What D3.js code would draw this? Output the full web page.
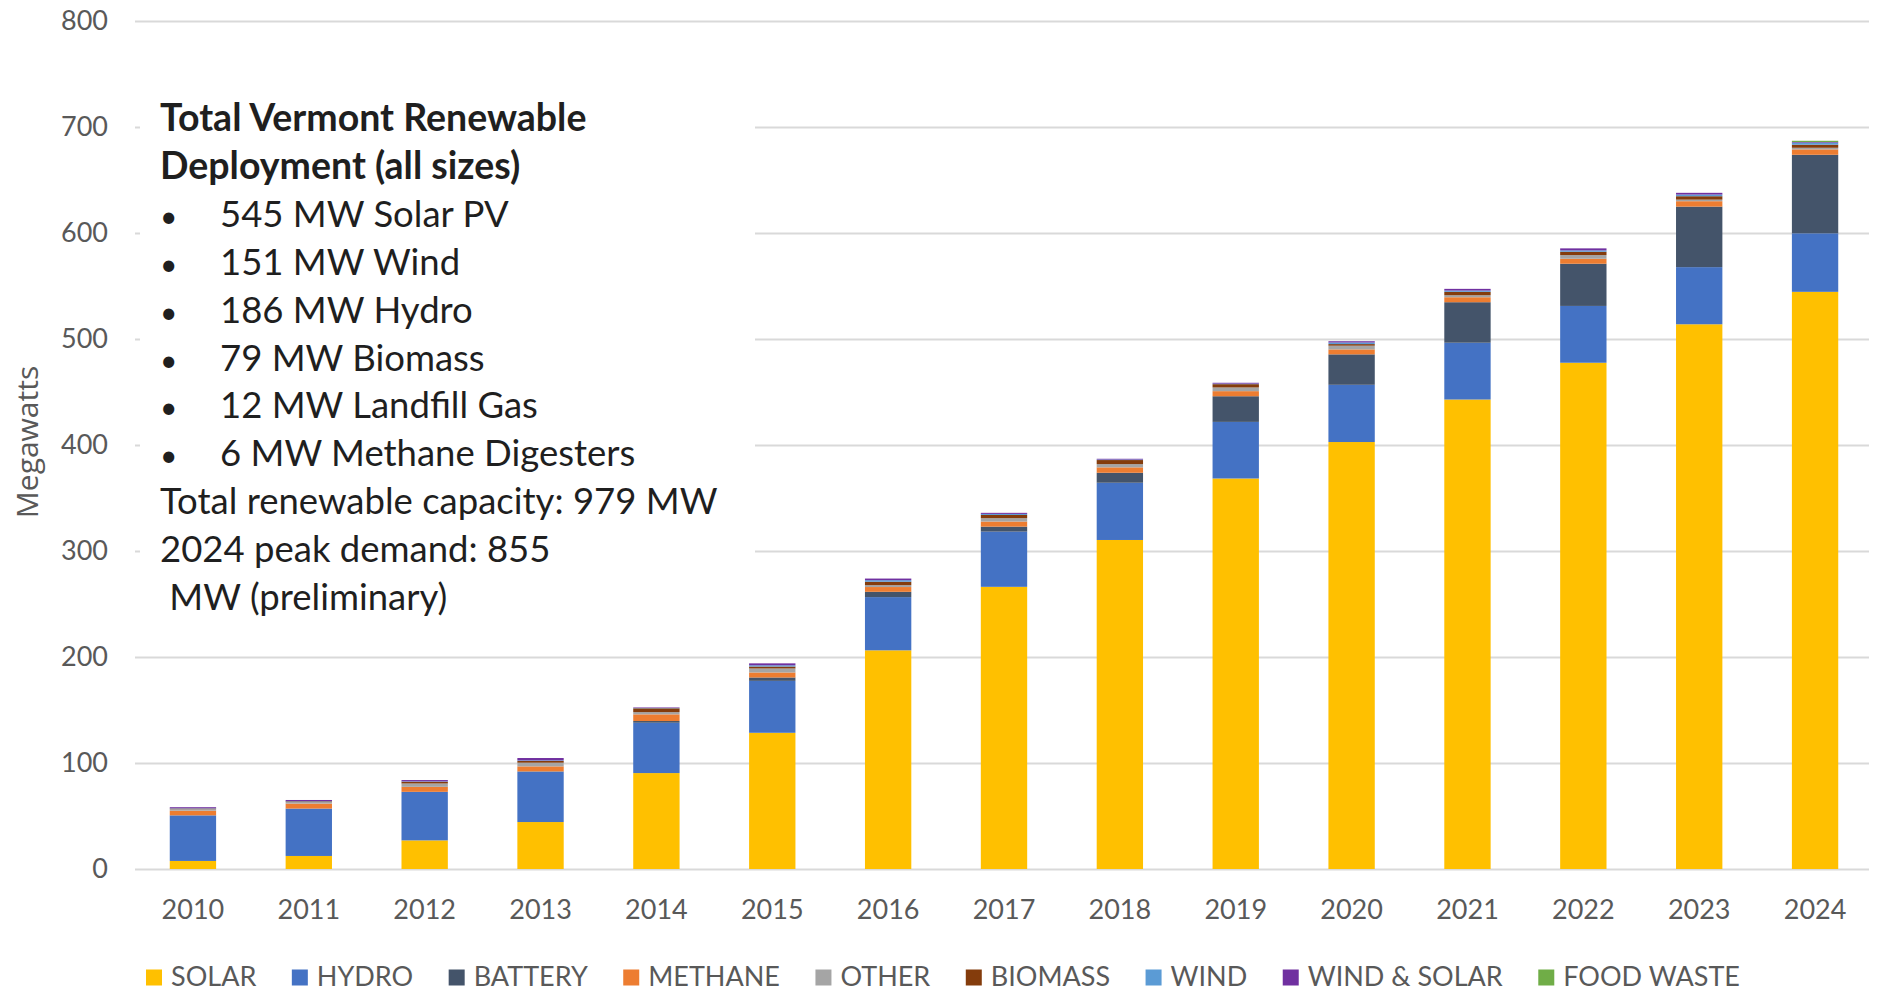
<!DOCTYPE html>
<html>
<head>
<meta charset="utf-8">
<script src="https://cdn.jsdelivr.net/npm/d3@7"></script>
<style>
body { margin: 0; background: #fff; }
svg text { font-family: Lato, "Open Sans", sans-serif; }
</style>
</head>
<body>
<script>
// values (MW, cumulative installed)
var years      = ["2010", "2011", "2012", "2013", "2014", "2015", "2016", "2017", "2018", "2019", "2020", "2021", "2022", "2023", "2024"];
var solar      = [7.6, 12.3, 27.0, 44.3, 90.5, 128.5, 206.3, 266.2, 310.4, 368.4, 402.8, 442.9, 477.6, 513.9, 544.5];
var hydro      = [43.0, 44.7, 45.8, 47.5, 47.5, 49.0, 50.2, 52.1, 54.0, 53.4, 54.0, 53.6, 53.6, 53.9, 55.2];
var battery    = [0, 0, 0, 0.3, 1.6, 3.2, 5.0, 4.7, 9.4, 24.2, 28.7, 38.2, 39.8, 57.1, 74.1];
var methane    = [4.4, 4.7, 4.7, 4.7, 6.3, 4.7, 4.5, 4.8, 5.1, 4.8, 4.7, 4.7, 4.7, 5.1, 5.1];
var other      = [1.5, 1.5, 3.2, 3.5, 2.1, 3.8, 1.8, 3.2, 3.1, 3.5, 3.5, 1.9, 3.5, 1.5, 1.5];
var biomass    = [0.5, 0.6, 1.6, 1.6, 3.6, 1.8, 3.2, 3.0, 3.8, 3.1, 1.5, 3.2, 3.1, 3.2, 2.9];
var wind       = [0.3, 0.3, 0.4, 0.6, 0.3, 1.2, 1.5, 1.0, 0.5, 0.5, 1.5, 1.2, 1.3, 1.6, 1.9];
var windSolar  = [1.0, 1.0, 1.2, 2.2, 0.5, 1.8, 1.5, 1.0, 0.7, 0.8, 1.2, 1.6, 1.9, 1.6, 0.6];
var foodWaste  = [0, 0, 0, 0, 0, 0, 0, 0, 0, 0, 0, 0, 0, 0, 1.2];

var seriesNames = ["SOLAR", "HYDRO", "BATTERY", "METHANE", "OTHER", "BIOMASS", "WIND", "WIND & SOLAR", "FOOD WASTE"];
var seriesData  = [solar, hydro, battery, methane, other, biomass, wind, windSolar, foodWaste];
var seriesColors = ["#FFC000", "#4472C4", "#44546A", "#ED7D31", "#A5A5A5", "#843C0C", "#5B9BD5", "#7030A0", "#70AD47"];

var yTicks = [0, 100, 200, 300, 400, 500, 600, 700, 800];

var noteTitle = ["Total Vermont Renewable", "Deployment (all sizes)"];
var noteBullets = ["545 MW Solar PV", "151 MW Wind", "186 MW Hydro", "79 MW Biomass", "12 MW Landfill Gas", "6 MW Methane Digesters"];
var noteFooter = ["Total renewable capacity: 979 MW", "2024 peak demand: 855", " MW (preliminary)"];

var width  = 1879;
var height = 992;
var left   = 135;
var right  = 1869;

var svg = d3.select("body")
    .append("svg")
    .attr("width", width)
    .attr("height", height);

var x = d3.scaleBand()
    .domain(years)
    .range([left, 1873])
    .paddingInner(0.6)
    .paddingOuter(0.3);

var y = d3.scaleLinear()
    .domain([0, 800])
    .range([869, 21]);

var color = d3.scaleOrdinal().domain(seriesNames).range(seriesColors);

// table for d3.stack
var table = years.map(function (yr, i) {
    var row = { year: yr };
    seriesNames.forEach(function (s, j) { row[s] = seriesData[j][i]; });
    return row;
});
var stacked = d3.stack().keys(seriesNames)(table);

// gridlines
svg.append("g")
    .attr("transform", "translate(" + left + ",0)")
    .call(d3.axisRight(y).tickValues(yTicks).tickSize(right - left).tickFormat(""))
    .call(function (g) { g.select(".domain").remove(); })
    .selectAll("line")
    .attr("stroke", "#D9D9D9")
    .attr("stroke-width", 2.2);

// y labels
svg.append("g")
    .attr("transform", "translate(" + left + ",0)")
    .call(d3.axisLeft(y).tickValues(yTicks).tickSize(0).tickPadding(27))
    .call(function (g) { g.select(".domain").remove(); })
    .selectAll("text")
    .attr("fill", "#595959")
    .style("font-size", "27px")
    .style("font-family", "Lato, sans-serif");

// x labels
svg.append("g")
    .attr("transform", "translate(0,869)")
    .call(d3.axisBottom(x).tickSize(0).tickPadding(31))
    .call(function (g) { g.select(".domain").remove(); })
    .selectAll("text")
    .attr("fill", "#595959")
    .style("font-size", "27px")
    .style("font-family", "Lato, sans-serif");

// white text box that hides the gridlines behind the note
svg.append("rect")
    .attr("x", 140)
    .attr("y", 90)
    .attr("width", 615)
    .attr("height", 525)
    .attr("fill", "#fff");

// bars
svg.append("g")
    .selectAll("g")
    .data(stacked)
    .enter()
    .append("g")
    .attr("fill", function (d) { return color(d.key); })
    .selectAll("rect")
    .data(function (d) { return d; })
    .enter()
    .append("rect")
    .attr("x", function (d) { return x(d.data.year); })
    .attr("y", function (d) { return y(d[1]); })
    .attr("width", x.bandwidth())
    .attr("height", function (d) { return y(d[0]) - y(d[1]); });

// y axis title
svg.append("text")
    .attr("transform", "translate(26,442) rotate(-90)")
    .attr("text-anchor", "middle")
    .attr("dominant-baseline", "central")
    .attr("fill", "#595959")
    .style("font-family", "'Open Sans', sans-serif")
    .style("font-size", "30px")
    .text("Megawatts");

// note text
var note = svg.append("g").attr("fill", "#1f1f1f").style("font-size", "36.5px");
var lineH = 47.9;
var base0 = 131;

note.selectAll(".title")
    .data(noteTitle)
    .enter()
    .append("text")
    .attr("class", "title")
    .attr("x", 160)
    .attr("y", function (d, i) { return base0 + i * lineH; })
    .style("font-weight", "bold")
    .style("font-size", "37.5px")
    .text(function (d) { return d; });

var bullets = note.selectAll(".bullet")
    .data(noteBullets)
    .enter()
    .append("g")
    .attr("class", "bullet")
    .attr("transform", function (d, i) { return "translate(0," + (base0 + (i + 2) * lineH) + ")"; });
bullets.append("text").attr("x", 160).style("font-size", "30px").text("\u2022");
bullets.append("text").attr("x", 220).text(function (d) { return d; });

note.selectAll(".foot")
    .data(noteFooter)
    .enter()
    .append("text")
    .attr("class", "foot")
    .attr("x", 160)
    .attr("y", function (d, i) { return base0 + (i + 8) * lineH; })
    .style("white-space", "pre")
    .attr("xml:space", "preserve")
    .text(function (d) { return d; });

// legend
var legend = svg.append("g").attr("transform", "translate(146,0)");
var lx = 0;
seriesNames.forEach(function (name) {
    var item = legend.append("g").attr("transform", "translate(" + lx + ",0)");
    item.append("rect")
        .attr("x", 0)
        .attr("y", 969.5)
        .attr("width", 16)
        .attr("height", 16)
        .attr("fill", color(name));
    var t = item.append("text")
        .attr("x", 25)
        .attr("y", 985.5)
        .attr("fill", "#595959")
        .style("font-size", "27px")
        .text(name);
    lx += 25 + t.node().getComputedTextLength() + 35.5;
});
</script>
</body>
</html>
